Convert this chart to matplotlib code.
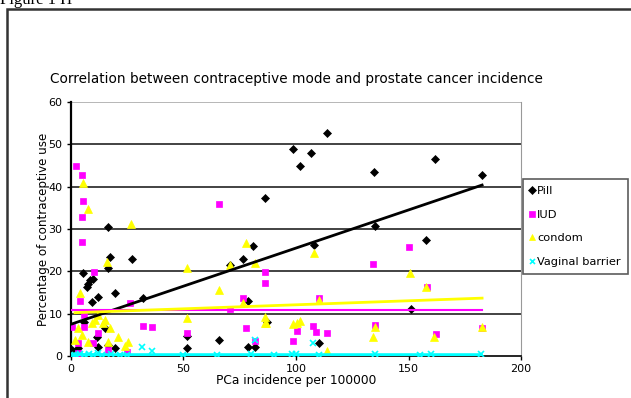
import numpy as np
import matplotlib
matplotlib.use("Agg")
import matplotlib.pyplot as plt
from matplotlib.patches import Rectangle

plt.rcParams['font.family'] = ['DejaVu Sans']

# PCa incidence (x) vs percentage of contraceptive use (y)
pill_x = [0.5, 3, 5.4, 6, 7, 7.7, 8.5, 9.4, 10, 11.5, 12, 12, 15, 16.4, 16.4, 16.4, 17.3,
          19.6, 19.6, 27, 32, 51.5, 51.5, 66, 70.7, 76.6, 78.5, 78.5, 81, 82, 86,
          87, 98.7, 101.8, 106.5, 108, 110, 113.8, 134.7, 135, 151, 157.8, 161.8, 182.7]
pill_y = [1.5, 1.9, 19.5, 8, 16.4, 17, 18, 12.8, 18.2, 4.5, 14, 2.2, 6.6, 20.8, 30.5, 2.6, 23.4,
          14.8, 2, 23, 13.7, 4.7, 2, 3.8, 21.5, 23, 13, 2.2, 26, 2.1, 37.3,
          8.1, 49, 45, 48, 26.3, 3, 52.7, 43.5, 30.7, 11, 27.5, 46.5, 42.8]

iud_x = [0.4, 2.2, 3, 3, 4, 5, 5, 5, 5.4, 6, 6, 9.7, 10.2, 12, 16.5, 25, 26.3, 32, 36,
         51.5, 65.8, 70.7, 76.4, 77.8, 81.8, 86, 86, 98.7, 100.4, 107.6, 109, 110,
         113.7, 134, 135, 150, 158, 162, 182.7]
iud_y = [6.9, 44.9, 3.1, 0.7, 13, 42.8, 32.8, 27, 36.6, 6.9, 9.7, 3, 19.9, 5.5, 1.4, 1, 12.5,
         7.2, 6.9, 5.5, 35.9, 11, 13.8, 6.6, 3.5, 19.8, 17.3, 3.5, 6, 7.1, 5.7, 13.7,
         5.4, 21.7, 7.3, 25.8, 16.3, 5.2, 6.6]

condom_x = [1.8, 3, 4, 5, 5.4, 7.6, 7.6, 9.3, 10.7, 12, 14.4, 15, 16, 16.4, 17.3, 21, 24,
            25.3, 26.7, 51.5, 51.5, 65.8, 70.7, 76.4, 77.8, 81.8, 86, 86, 86.7, 98.7,
            100.4, 101.8, 108, 110, 113.7, 134, 135, 150.7, 157.8, 161.5, 182.7]
condom_y = [3.8, 6.6, 14.8, 5, 40.9, 34.7, 3.3, 7.8, 8.5, 9.7, 7.8, 8.5, 22.3, 3.3, 6.6, 4.5, 2.3,
            3.3, 31.2, 20.7, 9, 15.6, 21.5, 12.5, 26.8, 21.9, 9.3, 7.7, 7.7, 7.6,
            7.8, 8.3, 24.4, 13.2, 1.2, 4.6, 6.9, 19.7, 16.3, 4.6, 6.9]

vag_x = [1, 2, 4, 6, 8, 10, 12, 14, 18, 22, 25, 31.6, 36, 50, 65, 80, 82, 90, 98, 100,
         107.6, 110, 135, 155, 160, 182]
vag_y = [0.3, 0.2, 0.5, 0.3, 0.4, 0.2, 0.6, 0.3, 0.4, 0.2, 0.3, 2.1, 1.2, 0.3, 0.2, 0.4, 3.8,
         0.3, 0.4, 0.5, 3, 0.3, 0.4, 0.3, 0.5, 0.4]

# linear trendline (intercept, slope) of each series as shown in the figure
trend_b = [7.5, 10.8, 10.2, 0.3]
trend_k = [0.18, 0.0, 0.019, 0.0]

series = [
    ("Pill", pill_x, pill_y, "D", "black", 4.4, 2.0),
    ("IUD", iud_x, iud_y, "s", "#ff00ff", 5.0, 1.5),
    ("condom", condom_x, condom_y, "^", "#ffff00", 5.5, 2.0),
    ("Vaginal barrier", vag_x, vag_y, "x", "#00ffff", 4.0, 2.6),
]

fig = plt.figure(figsize=(6.31, 3.98), dpi=100)
ax = fig.add_axes([0.1125, 0.1055, 0.7132, 0.6382])

for name, xs, ys, m, c, ms, lw in series:
    ax.plot(xs, ys, linestyle="none", marker=m, color=c, markersize=ms,
            markeredgewidth=1.2 if m == "x" else 0.5, label=name, zorder=3)

# trendlines drawn over the markers, like Excel does
for (name, xs, ys, m, c, ms, lw), b, k in zip(series, trend_b, trend_k):
    xl = np.array([min(xs), max(xs)])
    ax.plot(xl, k * xl + b, color=c, lw=lw, zorder=4)

ax.set_xlim(0, 200)
ax.set_ylim(0, 60)
ax.set_xticks([0, 50, 100, 150, 200])
ax.set_yticks([0, 10, 20, 30, 40, 50, 60])
ax.tick_params(labelsize=8, length=3, width=1, direction="out", pad=3)
for y in [10, 20, 30, 40, 50]:
    ax.axhline(y, color="#222222", lw=1.2, zorder=1)
ax.axhline(60, color="#aaaaaa", lw=1.2, zorder=1)
ax.spines["top"].set_visible(False)
ax.spines["right"].set_color("#999999")
ax.spines["left"].set_linewidth(1.6)
ax.spines["bottom"].set_linewidth(1.2)

ax.set_title("Correlation between contraceptive mode and prostate cancer incidence",
             fontsize=9.8, pad=14)
ax.set_ylabel("Percentage of contraceptive use", fontsize=8.6, labelpad=-1)
ax.set_xlabel("PCa incidence per 100000", fontsize=8.8, labelpad=0)

leg = ax.legend(loc="upper left", bbox_to_anchor=(0.997, 0.71), fontsize=8.2,
                frameon=True, fancybox=False, edgecolor="#333333",
                handlelength=0.4, handletextpad=0.25, borderpad=0.6,
                borderaxespad=0.3, labelspacing=1.2, markerscale=0.9)
leg.get_frame().set_linewidth(1.2)

# outer frame of the figure panel and the clipped caption above it
fig.patches.append(Rectangle((7 / 631, -0.05), 1.0, 1 - 9 / 398 + 0.05,
                             transform=fig.transFigure, fill=False,
                             edgecolor="#333333", lw=1.8))
fig.text(0.0, 1.0, "Figure 1 H", fontsize=12, family="Liberation Serif",
         va="center", ha="left")

fig.savefig("out.png", dpi=100)
